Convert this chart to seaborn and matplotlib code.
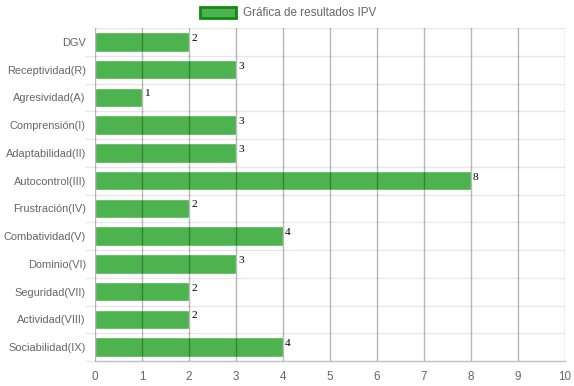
import matplotlib
matplotlib.use("Agg")
import matplotlib.pyplot as plt
import seaborn as sns
import pandas as pd
from matplotlib.patches import Rectangle

# === Datos
categorias = ["DGV", "Receptividad(R)", "Agresividad(A)", "Comprensión(I)",
              "Adaptabilidad(II)", "Autocontrol(III)", "Frustración(IV)",
              "Combatividad(V)", "Dominio(VI)", "Seguridad(VII)",
              "Actividad(VIII)", "Sociabilidad(IX)"]
valores = [2, 3, 1, 3, 3, 8, 2, 4, 3, 2, 2, 4]
ticks_x = list(range(0, 11))
titulo_leyenda = "Gráfica de resultados IPV"

df = pd.DataFrame({"categoria": categorias, "valor": valores})

sns.set_theme(style="white")
plt.rcParams["font.family"] = ["Liberation Sans", "DejaVu Sans"]

verde = "#4cb34f"
borde = "#138a13"
gris_v = "#b3b3b3"
gris_h = "#e8e8e8"

fig = plt.figure(figsize=(5.74, 3.86), dpi=100)
ax = fig.add_axes([95 / 574, 1 - 361 / 386, 470 / 574, 333 / 386])

sns.barplot(data=df, x="valor", y="categoria", orient="h", color=verde,
            saturation=1, width=0.70, ax=ax, zorder=2)

ax.set_xlim(0, 10)
ax.set_ylim(len(categorias) - 0.5, -0.5)
ax.set_xticks(ticks_x)
ax.set_xlabel("")
ax.set_ylabel("")

# rejilla
for i in range(len(categorias)):
    ax.axhline(i - 0.5, color=gris_h, lw=1, zorder=1)
for t in ticks_x:
    ax.axvline(t, color="black", alpha=0.28, lw=1, zorder=3)

for s in ["top", "right", "left"]:
    ax.spines[s].set_visible(False)
ax.spines["bottom"].set_color("#c0c0c0")
ax.spines["bottom"].set_linewidth(1)

ax.tick_params(axis="x", length=4, width=1, color=gris_v, pad=3,
               labelsize=8.4, labelcolor="#666666")
ax.tick_params(axis="y", length=0, pad=6.5, labelsize=7.9, labelcolor="#666666")
ax.set_yticks([i + 0.5 for i in range(len(categorias))], minor=True)
ax.tick_params(axis="y", which="minor", length=7, width=1, color=gris_h, left=True)

# etiquetas de valor
for i, v in enumerate(valores):
    ax.annotate(str(v), xy=(v, i), xytext=(2, 3.5), textcoords="offset pixels",
                ha="left", va="center", fontsize=8.2, family="Liberation Serif",
                color="black", zorder=4)

# leyenda
fig.patches.append(Rectangle((200 / 574, 1 - 18 / 386), 36 / 574, 11 / 386,
                             transform=fig.transFigure, facecolor=verde,
                             edgecolor=borde, linewidth=2))
fig.text(243 / 574, 1 - 12.5 / 386, titulo_leyenda, ha="left", va="center",
         fontsize=8.4, color="#666666")

fig.savefig("out.png", dpi=100)
